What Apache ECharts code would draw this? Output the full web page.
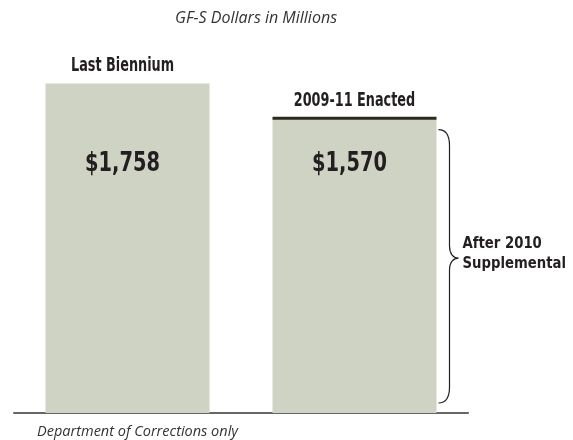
<!DOCTYPE html>
<html>
<head>
<meta charset="utf-8">
<script src="https://cdn.jsdelivr.net/npm/echarts@6/dist/echarts.min.js"></script>
<style>
  html, body { margin: 0; padding: 0; background: #fff; }
  #chart { width: 573px; height: 440px; }
</style>
</head>
<body>
<div id="chart"></div>
<script>
// 数据
const categories = ['Last Biennium', '2009-11 Enacted'];
const values = [1758, 1570];
const bracketLabel = 'After 2010\nSupplemental';
const titleText = 'GF-S Dollars in Millions';
const noteText = 'Department of Corrections only';

const myChart = echarts.init(document.getElementById('chart'));

const condensed = "'DejaVu Sans Condensed', 'DejaVu Sans', sans-serif";
const textColor = '#231f20';
const barColor = '#cfd3c3';
const BAR_W = 164;
const VALUE_Y = 164; // 金额文字的纵向位置

function fmt(v) {
    return '$' + v.toLocaleString('en-US');
}

// 压窄的粗体文字（模仿窄体字）
function narrowText(x, y, text, size, sx, align, vAlign, lineHeight) {
    return {
        type: 'text',
        x: x,
        y: y,
        scaleX: sx,
        style: {
            x: 0, y: 0,
            text: text,
            align: align, verticalAlign: vAlign,
            font: 'bold ' + size + 'px ' + condensed,
            lineHeight: lineHeight || size * 1.2,
            fill: textColor
        }
    };
}

function renderOverlay(params, api) {
    const idx = api.value(0);
    const val = api.value(1);
    const top = api.coord([idx, val]);
    const base = api.coord([idx, 0]);
    const cx = top[0];
    const children = [
        narrowText(cx - (idx === 0 ? 5 : 0), top[1] - 6, categories[idx], 19, 0.75, 'center', 'bottom'),
        narrowText(cx - 5, VALUE_Y, fmt(val), 26, 0.83, 'center', 'middle')
    ];
    if (idx === 1) {
        // 顶部深色线
        children.push({
            type: 'rect',
            shape: { x: cx - BAR_W / 2, y: top[1] - 2, width: BAR_W, height: 3 },
            style: { fill: '#2b2b1b' }
        });
        // 右侧大括号
        const bx = cx + BAR_W / 2 + 2;
        const vx = bx + 11;
        const tx = bx + 20;
        const y0 = top[1] + 11;
        const y1 = base[1] - 10;
        const tip = y0 + (y1 - y0) * 0.47;
        const d = 'M' + bx + ',' + y0 +
            ' C' + (vx - 3) + ',' + y0 + ' ' + vx + ',' + (y0 + 6) + ' ' + vx + ',' + (y0 + 16) +
            ' L' + vx + ',' + (tip - 12) +
            ' C' + vx + ',' + (tip - 4) + ' ' + (tx - 5) + ',' + tip + ' ' + tx + ',' + tip +
            ' C' + (tx - 5) + ',' + tip + ' ' + vx + ',' + (tip + 4) + ' ' + vx + ',' + (tip + 12) +
            ' L' + vx + ',' + (y1 - 16) +
            ' C' + vx + ',' + (y1 - 6) + ' ' + (vx - 3) + ',' + y1 + ' ' + bx + ',' + y1;
        children.push({
            type: 'path',
            shape: { pathData: d },
            style: { fill: 'none', stroke: textColor, lineWidth: 1.2 }
        });
        children.push(narrowText(tx + 4, tip - 4, bracketLabel, 16, 0.92, 'left', 'middle', 20));
    }
    return { type: 'group', children: children };
}

const option = {
    backgroundColor: '#fff',
    animation: false,
    title: [
        {
            text: titleText,
            left: 170,
            top: 5,
            textStyle: {
                fontFamily: "'Open Sans', sans-serif",
                fontStyle: 'italic',
                fontWeight: 'normal',
                fontSize: 16,
                color: '#333'
            }
        },
        {
            text: noteText,
            left: 32,
            top: 419,
            textStyle: {
                fontFamily: "'Open Sans', sans-serif",
                fontStyle: 'italic',
                fontWeight: 'normal',
                fontSize: 14.5,
                color: '#333'
            }
        }
    ],
    grid: { left: 14, right: 105, top: 38, bottom: 27 },
    xAxis: {
        type: 'category',
        data: categories,
        axisLine: { show: true, lineStyle: { color: '#666', width: 2 } },
        axisTick: { show: false },
        axisLabel: { show: false }
    },
    yAxis: {
        type: 'value',
        min: 0,
        max: 2000,
        show: false,
        splitLine: { show: false }
    },
    series: [
        {
            type: 'bar',
            data: values,
            barWidth: BAR_W,
            itemStyle: { color: barColor },
            silent: true,
            z: 1
        },
        {
            type: 'custom',
            data: values.map((v, i) => [i, v]),
            renderItem: renderOverlay,
            silent: true,
            z: 5
        }
    ]
};

myChart.setOption(option);

window.addEventListener('resize', function () {
    myChart.resize();
});
</script>
</body>
</html>
